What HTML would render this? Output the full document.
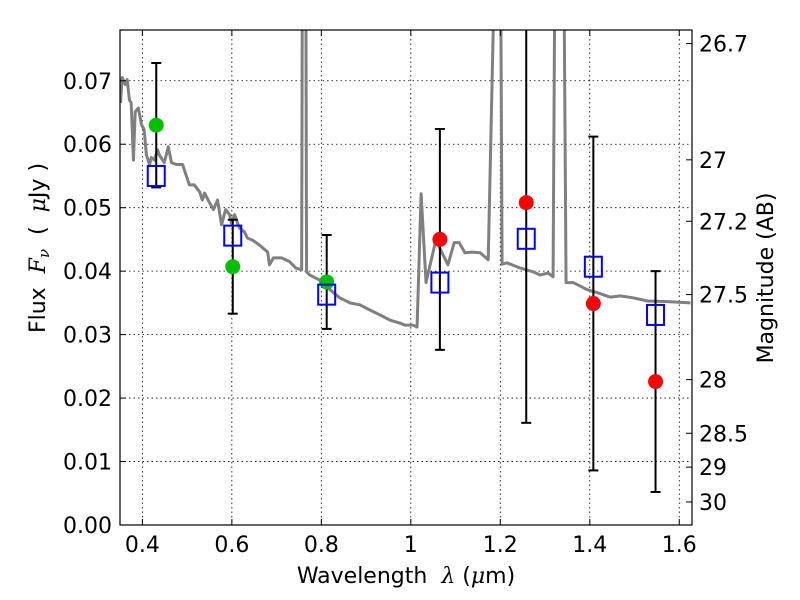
<!DOCTYPE html>
<html><head><meta charset="utf-8"><style>
body{margin:0;background:#fff}
svg{display:block;font-family:"DejaVu Sans","Liberation Sans",sans-serif}
text{white-space:pre}
</style></head><body>
<svg id="chart" width="800" height="600" xmlns="http://www.w3.org/2000/svg"></svg>
<script>
const specWave=[0.351,0.355,0.362,0.366,0.371,0.375,0.380,0.384,0.391,0.398,0.404,0.409,0.416,0.420,0.427,0.434,0.438,0.449,0.458,0.465,0.476,0.490,0.496,0.505,0.516,0.528,0.534,0.539,0.550,0.559,0.568,0.577,0.586,0.595,0.599,0.606,0.617,0.628,0.635,0.646,0.662,0.680,0.684,0.693,0.711,0.729,0.743,0.756,0.758,0.765,0.767,0.774,0.796,0.819,0.841,0.864,0.886,0.908,0.931,0.953,0.976,0.987,1.005,1.014,1.023,1.034,1.056,1.083,1.097,1.108,1.121,1.137,1.155,1.173,1.191,1.200,1.204,1.215,1.244,1.273,1.289,1.307,1.318,1.323,1.341,1.347,1.363,1.394,1.417,1.446,1.468,1.497,1.529,1.574,1.625];
const specFlux=[0.0665,0.0705,0.0694,0.0702,0.0670,0.0665,0.0575,0.0651,0.0657,0.0631,0.0623,0.0583,0.0568,0.0579,0.0575,0.0591,0.0583,0.0571,0.0596,0.0571,0.0568,0.0568,0.0555,0.0536,0.0536,0.0525,0.0512,0.0523,0.0508,0.0497,0.0512,0.0473,0.0497,0.0489,0.0476,0.0489,0.0468,0.0462,0.0452,0.0449,0.0441,0.0430,0.0410,0.0421,0.0421,0.0415,0.0405,0.0402,0.10,0.10,0.0399,0.0394,0.0386,0.0371,0.0358,0.0350,0.0347,0.0339,0.0331,0.0323,0.0318,0.0315,0.0315,0.0312,0.0522,0.0382,0.0449,0.0410,0.0445,0.0445,0.0429,0.0430,0.0429,0.0418,0.10,0.10,0.0411,0.0413,0.0405,0.0399,0.0394,0.0397,0.0391,0.10,0.10,0.0382,0.0382,0.0371,0.0366,0.0359,0.0361,0.0358,0.0353,0.0352,0.0350];
const obsWave=[0.431,0.602,0.812,1.065,1.258,1.408,1.547];
const obsFlux=[0.0630,0.0407,0.0383,0.0450,0.0508,0.0349,0.0226];
const obsErr=[0.0098,0.0074,0.0074,0.0174,0.0347,0.0263,0.0174];
const obsColor=['#00c000','#00c000','#00c000','#ff0000','#ff0000','#ff0000','#ff0000'];
const modelFlux=[0.0550,0.0456,0.0363,0.0382,0.0451,0.0407,0.0331];
const xTicks=[0.4,0.6,0.8,1.0,1.2,1.4,1.6];
const xTickLabels=['0.4','0.6','0.8','1','1.2','1.4','1.6'];
const yTicks=[0,0.01,0.02,0.03,0.04,0.05,0.06,0.07];
const magTicks=[26.7,27,27.2,27.5,28,28.5,29,30];

const L=120,R=692,T=30,B=525,X0=0.35,X1=1.6285,Y0=0,Y1=0.078;
const sx=v=>L+(v-X0)/(X1-X0)*(R-L);
const sy=v=>B-(v-Y0)/(Y1-Y0)*(B-T);
const svg=document.getElementById('chart');
const NS='http://www.w3.org/2000/svg';
function el(tag,attrs,parent){const e=document.createElementNS(NS,tag);for(const k in attrs)e.setAttribute(k,attrs[k]);(parent||svg).appendChild(e);return e;}
const defs=el('defs',{});
const cp=el('clipPath',{id:'clip'},defs);el('rect',{x:L,y:T,width:R-L,height:B-T},cp);
xTicks.forEach(v=>{const g=el('line',{x1:sx(v),x2:sx(v),y1:T,y2:B,stroke:'#000','stroke-width':0.8,'stroke-dasharray':'1.5,3'});

});
yTicks.forEach(v=>{const g=el('line',{x1:L,x2:R,y1:sy(v),y2:sy(v),stroke:'#000','stroke-width':0.8,'stroke-dasharray':'1.5,3'});

});
const clipG=el('g',{'clip-path':'url(#clip)'});


const spec=el('polyline',{points:specWave.map((w,i)=>sx(w)+','+sy(specFlux[i])).join(' '),fill:'none',stroke:'#808080','stroke-width':3,'stroke-linejoin':'round'},clipG);


obsWave.forEach((w,i)=>{
 const x=sx(w),y1=sy(obsFlux[i]+obsErr[i]),y2=sy(obsFlux[i]-obsErr[i]);
 const eb=el('g',{},clipG);
 
 
 el('line',{x1:x,x2:x,y1:y1,y2:y2,stroke:'#000','stroke-width':2},eb);
 el('line',{x1:x-5,x2:x+5,y1:y1,y2:y1,stroke:'#000','stroke-width':2},eb);
 el('line',{x1:x-5,x2:x+5,y1:y2,y2:y2,stroke:'#000','stroke-width':2},eb);
});
obsWave.forEach((w,i)=>{
 const c=el('circle',{cx:sx(w),cy:sy(obsFlux[i]),r:7.5,fill:obsColor[i]},clipG);
 
 
});
obsWave.forEach((w,i)=>{
 const s=el('rect',{x:sx(w)-8.5,y:sy(modelFlux[i])-10,width:17,height:20,fill:'none',stroke:'#0000ff','stroke-width':2},clipG);
 
 
});
const fr=el('rect',{x:L,y:T,width:R-L,height:B-T,fill:'none',stroke:'#000','stroke-width':1.2});


xTicks.forEach((v,i)=>{const x=sx(v);
 el('line',{x1:x,x2:x,y1:B,y2:B-6,stroke:'#000'});el('line',{x1:x,x2:x,y1:T,y2:T+6,stroke:'#000'});
 const t=el('text',{x:x,y:B+27,'font-size':22,'text-anchor':'middle'});t.textContent=xTickLabels[i];
 
 });
yTicks.forEach(v=>{const y=sy(v);
 el('line',{x1:L,x2:L+6,y1:y,y2:y,stroke:'#000'});
 const t=el('text',{x:L-8,y:y+8,'font-size':22,'text-anchor':'end'});t.textContent=v.toFixed(2);
 
 });
magTicks.forEach(m=>{const y=sy(Math.pow(10,(23.9-m)/2.5));
 el('line',{x1:R,x2:R-6,y1:y,y2:y,stroke:'#000'});
 const t=el('text',{x:R+7,y:y+8,'font-size':22});t.textContent=String(m);
 
 });
</script>
<svg width="800" height="600" style="position:absolute;left:0;top:0;font-family:'DejaVu Sans','Liberation Sans',sans-serif" xmlns="http://www.w3.org/2000/svg">
<text x="406" y="583" font-size="22" text-anchor="middle">Wavelength  <tspan font-style="italic" font-family="'DejaVu Serif',serif">λ</tspan> (<tspan font-style="italic" font-family="'DejaVu Serif',serif">μ</tspan>m)</text>
<text transform="translate(45,248) rotate(-90)" font-size="22" text-anchor="middle">Flux  <tspan font-style="italic" font-family="'DejaVu Serif',serif">F<tspan font-size="15" dy="4">ν</tspan></tspan><tspan dy="-4">  (  </tspan><tspan font-style="italic" font-family="'DejaVu Serif',serif">μ</tspan>Jy )</text>
<text transform="translate(773,278) rotate(-90)" font-size="22" text-anchor="middle">Magnitude (AB)</text>
</svg>
</body></html>
